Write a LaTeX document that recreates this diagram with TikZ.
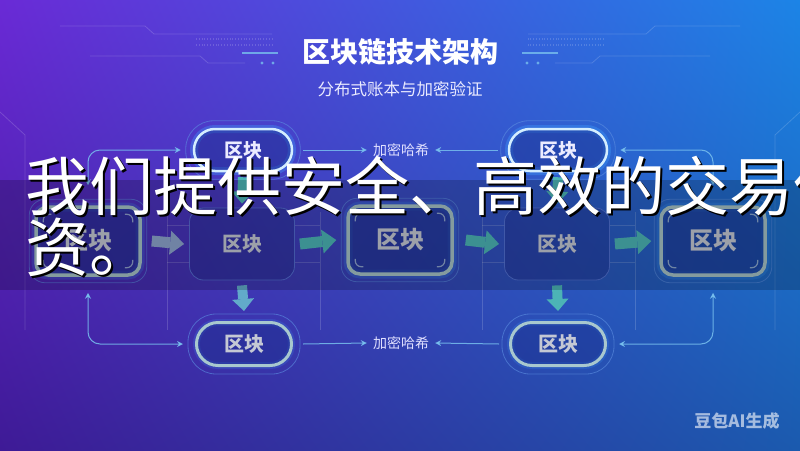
\documentclass[tikz,border=0pt]{standalone}
\usepackage{fontspec}
\newfontfamily\cjk{Noto Sans CJK SC}
\usetikzlibrary{arrows.meta,calc,shadings}
\definecolor{bgUL}{HTML}{6A2AD6}
\definecolor{bgUR}{HTML}{1C84E6}
\definecolor{bgLL}{HTML}{3E1A96}
\definecolor{bgLR}{HTML}{1B5AAE}
\definecolor{pillBright}{HTML}{D4EEFF}
\definecolor{glowBlue}{HTML}{3FA0FF}
\definecolor{pillGrey}{HTML}{A8C8CE}
\definecolor{blkBorder}{HTML}{A6C2C6}
\definecolor{blkFill}{HTML}{1A2E8C}
\definecolor{plainBorder}{HTML}{5A78D8}
\definecolor{plainFill}{HTML}{1C2888}
\definecolor{txtGrey}{HTML}{C4C8D4}
\definecolor{connBlue}{HTML}{78C0EE}
\definecolor{arrSteel}{HTML}{8CA4CE}
\definecolor{arrTeal}{HTML}{4CB4B6}
\definecolor{arrTealBlue}{HTML}{62AACA}
\definecolor{ringBlue}{HTML}{5C8EE0}
\definecolor{cornerCol}{HTML}{B8D0E0}
\tikzset{
  faint/.style={draw=white, draw opacity=0.16, line width=0.8pt},
  toppill/.style={draw=pillBright, line width=2.5pt, rounded corners=21pt,
    minimum width=98pt, minimum height=42pt, fill=blkFill, fill opacity=.45, text opacity=1,
    text=white!92!blue, font=\cjk\bfseries\fontsize{19}{19}\selectfont,
    preaction={draw=glowBlue, line width=8pt, draw opacity=.35}},
  botpill/.style={draw=pillGrey, line width=3pt, rounded corners=21.5pt,
    minimum width=95pt, minimum height=43pt, fill=blkFill, fill opacity=.45, text opacity=1,
    text=txtGrey, font=\cjk\bfseries\fontsize{20}{20}\selectfont,
    preaction={draw=glowBlue, line width=7pt, draw opacity=.18}},
  glowblk/.style={draw=blkBorder, line width=3.5pt, rounded corners=12pt,
    minimum width=104pt, minimum height=68pt, fill=blkFill, fill opacity=.55, text opacity=1,
    text=txtGrey, font=\cjk\bfseries\fontsize{24}{24}\selectfont,
    preaction={draw=glowBlue, line width=9pt, draw opacity=.22}},
  plainblk/.style={draw=plainBorder, draw opacity=.8, line width=0.8pt, rounded corners=14pt,
    minimum width=105pt, minimum height=72pt, fill=plainFill, fill opacity=.35, text opacity=1,
    text=txtGrey, font=\cjk\bfseries\fontsize{20}{20}\selectfont},
  ring/.style={draw=ringBlue, line width=0.8pt, draw opacity=.6},
  cornermk/.style={draw=cornerCol, line width=1.2pt, draw opacity=.7, rounded corners=6pt},
  hash/.style={inner sep=6pt, text=white!88!blue, font=\cjk\fontsize{14}{14}\selectfont},
  conn/.style={draw=connBlue, line width=1pt, draw opacity=.85, -{Stealth[length=6pt,width=6pt]}},
  conntwo/.style={draw=connBlue, line width=1pt, draw opacity=.85, rounded corners=12pt,
    {Stealth[length=6pt,width=6pt]}-{Stealth[length=6pt,width=6pt]}},
  bigarr/.style={line width=11pt, -{Triangle[length=14pt,width=24pt,line width=0pt]}},
  bigarrv/.style={line width=10pt, -{Triangle[length=12pt,width=22pt,line width=0pt]}},
  ovl/.style={anchor=base west, inner sep=0pt, text=white, font=\cjk\fontsize{64}{64}\selectfont},
}
\newcommand\titleDeco{%
  \draw[faint] (60,26) -- (145,26) -- (154,34) -- (272,34);
  \draw[faint] (90,56) -- (200,56) -- (208,63) -- (245,63);
  \draw[faint, dotted, line width=1.2pt] (196,39) -- (272,39);
  \draw[faint, dotted, line width=1.2pt] (196,45) -- (272,45);
  \draw[draw=connBlue, line width=1.5pt, draw opacity=.8] (242,53) -- (278,53);
  \fill[connBlue, opacity=.8] (262,63) circle[radius=1.6pt] (273,63) circle[radius=1.6pt];
}
\begin{document}
\begin{tikzpicture}[x=1pt,y=-1pt]
\useasboundingbox (0,0) rectangle (800,450);
\shade[upper left=bgUL,upper right=bgUR,lower left=bgLL,lower right=bgLR] (0,0) rectangle (800,450);

% decorative faint lines
\draw[faint] (0,112) -- (25,135) -- (25,330);
\draw[faint] (800,112) -- (775,135) -- (775,330);
\foreach \xx in {167,320,482,635} {\draw[faint] (\xx,212) -- (\xx,330);}
\foreach \xa/\xb in {167/190,295/320,482/505,610/635} {
  \draw[faint] (\xa,225) -- (\xb,225);
  \draw[faint] (\xa,262) -- (\xb,262);
}
\titleDeco
\begin{scope}[xshift=800pt, xscale=-1]
\titleDeco
\end{scope}

% title
\node[font=\cjk\bfseries\fontsize{28}{28}\selectfont, text=white] (title) at (400,52) {区块链技术架构};
\node[font=\cjk\fontsize{16.5}{16.5}\selectfont, text=white!92!blue] (subtitle) at (400,89) {分布式账本与加密验证};

% nodes
\node[toppill] (tp1) at (243,150) {区块};
\node[toppill] (tp2) at (558,150) {区块};
\node[glowblk] (b1) at (88,241) {区块};
\node[plainblk] (b2) at (242,244) {区块};
\node[glowblk] (b3) at (400,240) {区块};
\node[plainblk] (b4) at (557,244) {区块};
\node[glowblk] (b5) at (713,241) {区块};
\node[botpill] (bp1) at (244,344) {区块};
\node[botpill] (bp2) at (558,344) {区块};
\node[hash] (h1) at (401,150) {加密哈希};
\node[hash] (h2) at (401,343) {加密哈希};

% outer rings
\foreach \n in {tp1,tp2,bp1,bp2} {
  \draw[ring, rounded corners=28pt] ([shift={(-7pt,7pt)}]\n.north west) rectangle ([shift={(7pt,-7pt)}]\n.south east);
}
\foreach \n in {b1,b3,b5} {
  \draw[ring, rounded corners=16pt] ([shift={(-5pt,6pt)}]\n.north west) rectangle ([shift={(5pt,-6pt)}]\n.south east);
  \draw[cornermk] ([shift={(9pt,-17pt)}]\n.north west) |- ([shift={(17pt,-9pt)}]\n.north west);
  \draw[cornermk] ([shift={(-17pt,-9pt)}]\n.north east) -| ([shift={(-9pt,-17pt)}]\n.north east);
  \draw[cornermk] ([shift={(9pt,17pt)}]\n.south west) |- ([shift={(17pt,9pt)}]\n.south west);
  \draw[cornermk] ([shift={(-17pt,9pt)}]\n.south east) -| ([shift={(-9pt,17pt)}]\n.south east);
}

% block arrows
\draw[bigarr, draw=arrSteel] ([xshift=10pt]b1.east) -- ([xshift=-5pt]b2.west);
\draw[bigarr, draw=arrTeal] ([xshift=5pt]b2.east) -- ([xshift=-10pt]b3.west);
\draw[bigarr, draw=arrTeal] ([xshift=12pt]b3.east) -- ([xshift=-5pt]b4.west);
\draw[bigarr, draw=arrTeal] ([xshift=5pt]b4.east) -- ([xshift=-8pt]b5.west);
\draw[bigarrv, draw=arrTealBlue] ([yshift=-5pt]b2.south) -- ([yshift=10pt]bp1.north);
\draw[bigarrv, draw=arrTeal] ([yshift=-5pt]b4.south) -- ([yshift=10pt]bp2.north);
\draw[bigarrv, draw=arrTeal] ([yshift=-5pt]tp1.south) -- ([yshift=4pt]b2.north);
\draw[bigarrv, draw=arrTeal] ([yshift=-5pt]tp2.south) -- ([yshift=4pt]b4.north);

% thin connectors
\draw[conntwo] ([yshift=20pt]b1.north) |- ([xshift=-12pt]tp1.west);
\draw[conntwo] ([xshift=12pt]tp2.east) -| ([yshift=20pt]b5.north);
\draw[conntwo] ([yshift=-16pt]b1.south) |- ([xshift=-12pt]bp1.west);
\draw[conntwo] ([xshift=12pt]bp2.east) -| ([yshift=-16pt]b5.south);
\draw[conn] ([xshift=10pt]tp1.east) -- (h1.west);
\draw[conn] ([xshift=-10pt]tp2.west) -- (h1.east);
\draw[conn] ([xshift=10pt]bp1.east) -- (h2.west);
\draw[conn] ([xshift=-10pt]bp2.west) -- (h2.east);

% watermark
\node[font=\cjk\bfseries\fontsize{17}{17}\selectfont, text=white, text opacity=.6] (wm) at (737,421) {豆包AI生成};

% overlay subtitle band
\fill[black, opacity=.2] (0,180) rectangle (800,290);
\begin{scope}
\clip (0,0) rectangle (800,450);
\node[ovl, text=black] (ov1s) at (27,212.5) {我们提供安全、高效的交易保障投};
\node[ovl, text=black] (ov2s) at (27,273.5) {资。};
\node[ovl, text=black, text opacity=.6] (ov1t) at (26,211.5) {我们提供安全、高效的交易保障投};
\node[ovl, text=black, text opacity=.6] (ov2t) at (26,272.5) {资。};
\node[ovl] (ov1) at (25,210.5) {我们提供安全、高效的交易保障投};
\node[ovl] (ov2) at (25,271.5) {资。};
\end{scope}
\end{tikzpicture}
\end{document}
